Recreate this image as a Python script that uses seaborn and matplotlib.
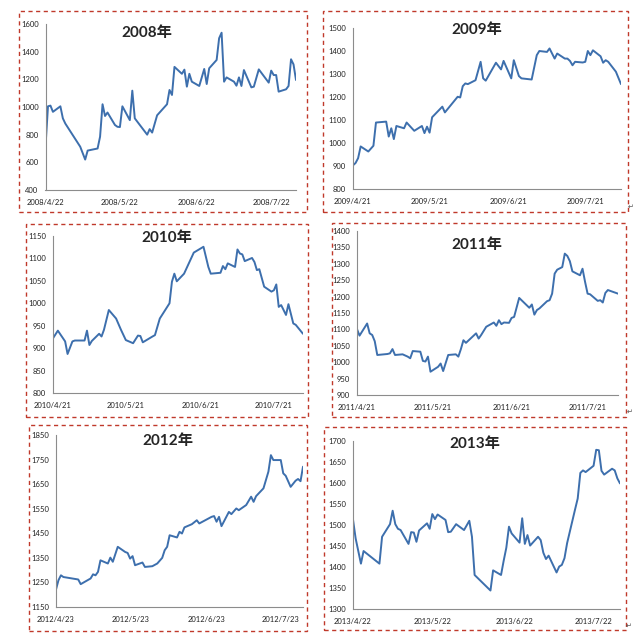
import pandas as pd
import numpy as np
import matplotlib.pyplot as plt
import seaborn as sns
from matplotlib.patches import Rectangle

# ---- data (date, price) ----
d2008 = ['2008-04-22', '2008-04-23', '2008-04-24', '2008-04-25', '2008-04-28', '2008-04-29', '2008-04-30',
         '2008-05-06', '2008-05-08', '2008-05-09', '2008-05-13', '2008-05-14', '2008-05-15', '2008-05-16',
         '2008-05-17', '2008-05-20', '2008-05-21', '2008-05-22', '2008-05-23', '2008-05-26', '2008-05-27',
         '2008-05-28', '2008-06-02', '2008-06-03', '2008-06-04', '2008-06-06', '2008-06-10', '2008-06-11',
         '2008-06-12', '2008-06-13', '2008-06-16', '2008-06-17', '2008-06-18', '2008-06-19', '2008-06-20',
         '2008-06-23', '2008-06-25', '2008-06-26', '2008-06-27', '2008-06-30', '2008-07-01', '2008-07-02',
         '2008-07-03', '2008-07-04', '2008-07-07', '2008-07-08', '2008-07-09', '2008-07-10', '2008-07-11',
         '2008-07-14', '2008-07-15', '2008-07-17', '2008-07-21', '2008-07-22', '2008-07-23', '2008-07-24',
         '2008-07-25', '2008-07-28', '2008-07-29', '2008-07-30', '2008-07-31', '2008-08-01']
v2008 = [713, 1005, 1010, 965, 1005, 918, 880,
         713, 620, 685, 700, 785, 1020, 935,
         960, 870, 857, 855, 1005, 905, 1118,
         918, 800, 840, 815, 940, 1020, 1123,
         1087, 1290, 1240, 1270, 1147, 1240, 1183,
         1152, 1275, 1166, 1280, 1340, 1497, 1537,
         1183, 1214, 1183, 1154, 1214, 1152, 1267,
         1142, 1147, 1272, 1176, 1263, 1231, 1231,
         1111, 1128, 1152, 1345, 1308, 1195]

d2009 = ['2009-04-21', '2009-04-22', '2009-04-23', '2009-04-24', '2009-04-27', '2009-04-29', '2009-04-30',
         '2009-05-04', '2009-05-05', '2009-05-06', '2009-05-07', '2009-05-08', '2009-05-11', '2009-05-12',
         '2009-05-15', '2009-05-18', '2009-05-19', '2009-05-20', '2009-05-21', '2009-05-22', '2009-05-26',
         '2009-05-27', '2009-06-01', '2009-06-02', '2009-06-03', '2009-06-04', '2009-06-05', '2009-06-08',
         '2009-06-10', '2009-06-11', '2009-06-12', '2009-06-16', '2009-06-18', '2009-06-19', '2009-06-22',
         '2009-06-23', '2009-06-25', '2009-06-26', '2009-06-30', '2009-07-02', '2009-07-03', '2009-07-06',
         '2009-07-07', '2009-07-09', '2009-07-10', '2009-07-13', '2009-07-14', '2009-07-15', '2009-07-16',
         '2009-07-17', '2009-07-20', '2009-07-21', '2009-07-22', '2009-07-23', '2009-07-24', '2009-07-27',
         '2009-07-28', '2009-07-29', '2009-07-30', '2009-08-02', '2009-08-04']
v2009 = [903, 913, 934, 985, 963, 988, 1089,
         1093, 1028, 1064, 1017, 1074, 1064, 1089,
         1053, 1074, 1043, 1071, 1045, 1112, 1158,
         1133, 1201, 1198, 1247, 1259, 1256, 1273,
         1353, 1281, 1271, 1349, 1320, 1357, 1281,
         1360, 1291, 1281, 1276, 1382, 1400, 1396,
         1411, 1367, 1389, 1367, 1367, 1357, 1338,
         1353, 1350, 1353, 1400, 1382, 1403, 1377,
         1349, 1360, 1353, 1310, 1256]

d2010 = ['2010-04-21', '2010-04-23', '2010-04-26', '2010-04-27', '2010-04-29', '2010-04-30', '2010-05-04',
         '2010-05-05', '2010-05-06', '2010-05-07', '2010-05-10', '2010-05-11', '2010-05-12', '2010-05-14',
         '2010-05-17', '2010-05-19', '2010-05-21', '2010-05-24', '2010-05-26', '2010-05-27', '2010-05-28',
         '2010-06-01', '2010-06-02', '2010-06-04', '2010-06-08', '2010-06-09', '2010-06-10', '2010-06-11',
         '2010-06-14', '2010-06-18', '2010-06-22', '2010-06-24', '2010-06-25', '2010-06-29', '2010-06-30',
         '2010-07-01', '2010-07-02', '2010-07-05', '2010-07-06', '2010-07-07', '2010-07-08', '2010-07-09',
         '2010-07-12', '2010-07-13', '2010-07-14', '2010-07-15', '2010-07-17', '2010-07-20', '2010-07-21',
         '2010-07-22', '2010-07-23', '2010-07-24', '2010-07-26', '2010-07-27', '2010-07-29', '2010-07-30',
         '2010-08-02']
v2010 = [922, 939, 915, 887, 915, 917, 917,
         939, 907, 916, 932, 926, 941, 985,
         966, 941, 918, 911, 928, 927, 913,
         926, 929, 966, 1000, 1048, 1066, 1049,
         1066, 1113, 1126, 1081, 1066, 1068, 1083,
         1076, 1089, 1081, 1120, 1111, 1109, 1094,
         1101, 1092, 1074, 1076, 1037, 1026, 1029,
         1042, 992, 996, 974, 998, 955, 952,
         932]

d2011 = ['2011-04-21', '2011-04-22', '2011-04-25', '2011-04-26', '2011-04-27', '2011-04-28', '2011-04-29',
         '2011-05-03', '2011-05-04', '2011-05-05', '2011-05-06', '2011-05-09', '2011-05-11', '2011-05-12',
         '2011-05-13', '2011-05-16', '2011-05-17', '2011-05-18', '2011-05-19', '2011-05-20', '2011-05-23',
         '2011-05-24', '2011-05-25', '2011-05-27', '2011-05-30', '2011-05-31', '2011-06-01', '2011-06-02',
         '2011-06-03', '2011-06-07', '2011-06-08', '2011-06-09', '2011-06-11', '2011-06-14', '2011-06-15',
         '2011-06-16', '2011-06-17', '2011-06-18', '2011-06-20', '2011-06-21', '2011-06-22', '2011-06-24',
         '2011-06-28', '2011-06-29', '2011-06-30', '2011-07-01', '2011-07-02', '2011-07-05', '2011-07-06',
         '2011-07-07', '2011-07-08', '2011-07-09', '2011-07-11', '2011-07-12', '2011-07-13', '2011-07-14',
         '2011-07-15', '2011-07-18', '2011-07-19', '2011-07-20', '2011-07-21', '2011-07-22', '2011-07-25',
         '2011-07-26', '2011-07-27', '2011-07-28', '2011-07-29', '2011-08-02']
v2011 = [1101, 1081, 1118, 1088, 1083, 1064, 1022,
         1025, 1027, 1040, 1022, 1024, 1017, 1012,
         1034, 1032, 1004, 1002, 1017, 971, 986,
         996, 973, 1022, 1024, 1017, 1040, 1067,
         1059, 1088, 1072, 1083, 1108, 1121, 1111,
         1128, 1116, 1121, 1120, 1135, 1138, 1196,
         1166, 1176, 1145, 1159, 1164, 1186, 1189,
         1209, 1270, 1282, 1290, 1331, 1324, 1308,
         1277, 1265, 1285, 1245, 1209, 1207, 1187,
         1189, 1182, 1211, 1220, 1209]

d2012 = ['2012-04-23', '2012-04-24', '2012-04-25', '2012-04-26', '2012-05-02', '2012-05-03', '2012-05-07',
         '2012-05-08', '2012-05-09', '2012-05-10', '2012-05-11', '2012-05-14', '2012-05-15', '2012-05-16',
         '2012-05-18', '2012-05-21', '2012-05-22', '2012-05-23', '2012-05-24', '2012-05-25', '2012-05-28',
         '2012-05-29', '2012-06-01', '2012-06-03', '2012-06-05', '2012-06-06', '2012-06-07', '2012-06-08',
         '2012-06-11', '2012-06-12', '2012-06-13', '2012-06-14', '2012-06-17', '2012-06-19', '2012-06-20',
         '2012-06-25', '2012-06-26', '2012-06-27', '2012-06-28', '2012-06-29', '2012-07-02', '2012-07-03',
         '2012-07-05', '2012-07-06', '2012-07-09', '2012-07-11', '2012-07-12', '2012-07-13', '2012-07-16',
         '2012-07-18', '2012-07-19', '2012-07-20', '2012-07-23', '2012-07-24', '2012-07-25', '2012-07-27',
         '2012-07-29', '2012-07-30', '2012-07-31', '2012-08-01']
v2012 = [1221, 1259, 1279, 1272, 1262, 1243, 1266,
         1283, 1279, 1293, 1340, 1327, 1351, 1334,
         1395, 1374, 1370, 1347, 1357, 1320, 1331,
         1313, 1316, 1327, 1350, 1381, 1395, 1442,
         1433, 1456, 1449, 1474, 1487, 1503, 1490,
         1517, 1520, 1497, 1517, 1479, 1537, 1528,
         1551, 1544, 1565, 1599, 1578, 1601, 1633,
         1701, 1768, 1748, 1748, 1694, 1684, 1639,
         1664, 1671, 1662, 1721]

d2013 = ['2013-04-22', '2013-04-23', '2013-04-24', '2013-04-25', '2013-04-26', '2013-05-02', '2013-05-03',
         '2013-05-06', '2013-05-07', '2013-05-08', '2013-05-09', '2013-05-10', '2013-05-13', '2013-05-14',
         '2013-05-15', '2013-05-16', '2013-05-17', '2013-05-20', '2013-05-21', '2013-05-22', '2013-05-23',
         '2013-05-24', '2013-05-27', '2013-05-28', '2013-05-29', '2013-05-31', '2013-06-03', '2013-06-05',
         '2013-06-06', '2013-06-07', '2013-06-13', '2013-06-14', '2013-06-17', '2013-06-18', '2013-06-19',
         '2013-06-20', '2013-06-21', '2013-06-24', '2013-06-25', '2013-06-26', '2013-06-27', '2013-06-28',
         '2013-07-01', '2013-07-02', '2013-07-03', '2013-07-04', '2013-07-05', '2013-07-08', '2013-07-09',
         '2013-07-10', '2013-07-11', '2013-07-12', '2013-07-15', '2013-07-16', '2013-07-17', '2013-07-18',
         '2013-07-19', '2013-07-22', '2013-07-23', '2013-07-24', '2013-07-25', '2013-07-26', '2013-07-29',
         '2013-07-30', '2013-07-31', '2013-08-01']
v2013 = [1513, 1468, 1438, 1408, 1438, 1408, 1472,
         1502, 1534, 1502, 1491, 1488, 1455, 1483,
         1482, 1460, 1487, 1504, 1491, 1526, 1514,
         1525, 1512, 1483, 1484, 1502, 1488, 1510,
         1472, 1381, 1344, 1392, 1381, 1415, 1446,
         1496, 1480, 1458, 1516, 1455, 1476, 1451,
         1472, 1464, 1434, 1419, 1427, 1387, 1401,
         1405, 1421, 1457, 1537, 1563, 1624, 1630,
         1626, 1641, 1679, 1678, 1629, 1620, 1634,
         1630, 1611, 1599]

titles = ['2008年', '2009年', '2010年', '2011年', '2012年', '2013年']
all_dates = [d2008, d2009, d2010, d2011, d2012, d2013]
all_vals = [v2008, v2009, v2010, v2011, v2012, v2013]
tick_days = [['2008-04-22', '2008-05-22', '2008-06-22', '2008-07-22'],
             ['2009-04-21', '2009-05-21', '2009-06-21', '2009-07-21'],
             ['2010-04-21', '2010-05-21', '2010-06-21', '2010-07-21'],
             ['2011-04-21', '2011-05-21', '2011-06-21', '2011-07-21'],
             ['2012-04-23', '2012-05-23', '2012-06-23', '2012-07-23'],
             ['2013-04-22', '2013-05-22', '2013-06-22', '2013-07-22']]
y_ranges = [(400, 1600, 200), (800, 1500, 100), (800, 1150, 50),
            (900, 1400, 50), (1150, 1850, 100), (1300, 1700, 50)]

# ---- layout (pixel boxes on a 640x641 canvas) ----
W, H = 640, 641
axes_px = [(45.5, 24, 296, 190), (353, 28, 621, 189), (53, 236, 303, 393),
           (357, 231, 618, 395), (56, 435, 303, 607), (353, 441, 620, 609)]
boxes_px = [(19, 11, 307, 212), (323, 11, 628, 212), (26, 224, 308, 417),
            (332, 223, 626, 417), (29, 425, 307, 631), (324, 427, 626, 630)]
title_px = [(147, 33), (477, 30), (167, 238), (477, 245), (168, 441), (475, 444)]

sns.set_theme(style="white")
plt.rcParams['font.family'] = ['Lato', 'DejaVu Sans']

fig = plt.figure(figsize=(6.4, 6.41), dpi=100)
fig.patch.set_facecolor('white')

line_color = '#3D6FAD'
for i in range(6):
    l, t, r, b = axes_px[i]
    ax = fig.add_axes([l / W, 1 - b / H, (r - l) / W, (b - t) / H])
    df = pd.DataFrame({'date': pd.to_datetime(all_dates[i]), 'price': all_vals[i]})
    sns.lineplot(data=df, x='date', y='price', ax=ax, color=line_color, linewidth=1.4)
    lo, hi, step = y_ranges[i]
    ax.set_ylim(lo, hi)
    ax.set_yticks(np.arange(lo, hi + 1, step))
    ax.set_xlim(df['date'].min(), df['date'].max())
    ticks = pd.to_datetime(tick_days[i])
    ax.set_xticks(ticks)
    ax.set_xticklabels([f'{d.year}/{d.month}/{d.day}' for d in ticks])
    ax.set_xlabel('')
    ax.set_ylabel('')
    for s in ['top', 'right']:
        ax.spines[s].set_visible(False)
    for s in ['left', 'bottom']:
        ax.spines[s].set_color('#8c8c8c')
        ax.spines[s].set_linewidth(0.8)
    ax.tick_params(axis='both', direction='out', length=2.5, width=0.6, color='#8c8c8c',
                   labelsize=5.5, labelcolor='#222222', pad=2.5)
    ax.tick_params(axis='x', pad=4)
    ax.set_facecolor('none')

    tx, ty = title_px[i]
    fig.text(tx / W, 1 - ty / H, titles[i], ha='center', va='center', fontsize=11,
             fontweight='bold', family=['Lato', 'Noto Sans CJK SC'])

    bl, bt, br, bb = boxes_px[i]
    fig.patches.append(Rectangle((bl / W, 1 - bb / H), (br - bl) / W, (bb - bt) / H,
                                 transform=fig.transFigure, fill=False, edgecolor='#C0392B',
                                 linewidth=1.0, linestyle=(0, (3, 2.5))))

# word paragraph marks beside the right-hand boxes
for x, y in [(631, 207), (630, 412), (629, 626)]:
    fig.text(x / W, 1 - y / H, '↵', fontsize=5, color='#555555', ha='center', va='center',
             family=['DejaVu Sans'])

fig.savefig('out.png', dpi=100, facecolor='white')
